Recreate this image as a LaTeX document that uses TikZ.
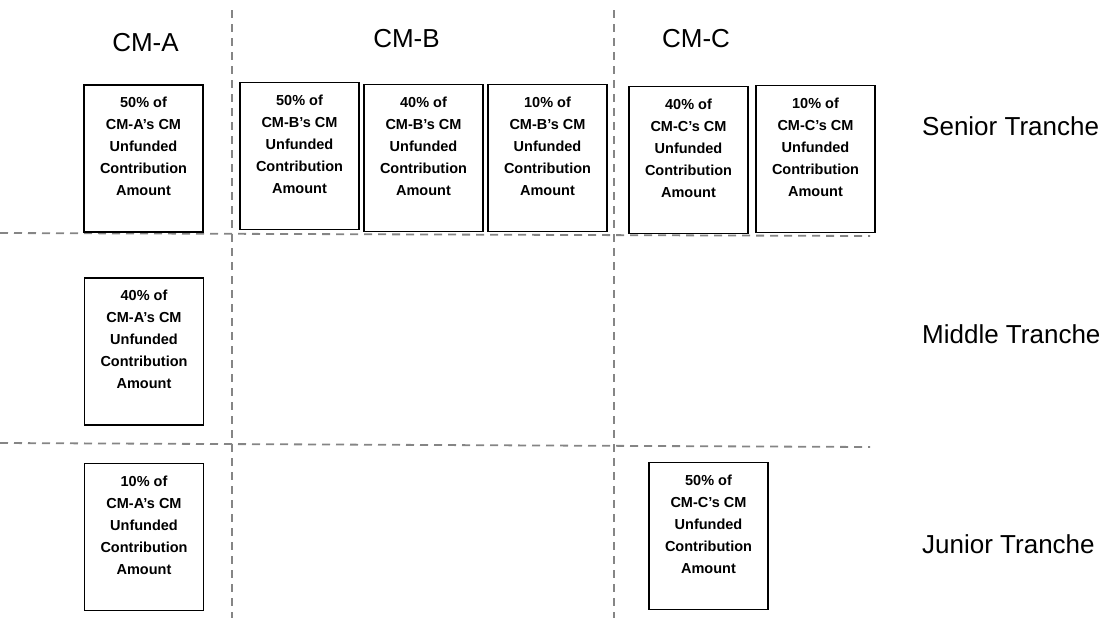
\documentclass[tikz,border=0pt]{standalone}
\usepackage{fontspec}
\setmainfont{Liberation Sans}
\begin{document}
\begin{tikzpicture}[x=1pt,y=-1pt,
  divider/.style={draw=black!48, line width=1.8pt, dash pattern=on 8pt off 6pt},
  sharebox/.style={draw=black, line width=1.2pt, minimum width=119pt, minimum height=147pt, inner sep=0pt},
  sharetext/.style={anchor=north, inner sep=0pt, align=center, font=\bfseries\fontsize{14.5}{22}\selectfont},
  colhead/.style={anchor=base, inner sep=0pt, font=\fontsize{26}{30}\selectfont},
  rowhead/.style={anchor=base west, inner sep=0pt, font=\fontsize{26}{30}\selectfont}]
\useasboundingbox (0,0) rectangle (1115,622);

% dividers
\coordinate (v1t) at (232,10);   \coordinate (v1b) at (232,618);
\coordinate (v2t) at (614,10);   \coordinate (v2b) at (614,618);
\coordinate (h1l) at (0,233);    \coordinate (h1r) at (870,236);
\coordinate (h2l) at (0,443);    \coordinate (h2r) at (870,447);
\draw[divider] (v1t) -- (v1b);
\draw[divider] (v2t) -- (v2b);
\draw[divider] (h1l) -- (h1r);
\draw[divider] (h2l) -- (h2r);

% column headers
\node[colhead] (hA) at (145.5,51) {CM-A};
\node[colhead] (hB) at (406.5,47) {CM-B};
\node[colhead] (hC) at (696,47) {CM-C};

% row headers
\node[rowhead] (rS) at (922,135) {Senior Tranche};
\node[rowhead] (rM) at (922,343) {Middle Tranche};
\node[rowhead] (rJ) at (922,553) {Junior Tranche};

% boxes
\node[sharebox] (a1) at (143.5,158.5) {};
\node[sharetext] (a1t) at ([yshift=-12.5pt]a1.north) {50\% of\\CM-A’s CM\\Unfunded\\Contribution\\Amount};
\node[sharebox] (b1) at (299.5,156) {};
\node[sharetext] (b1t) at ([yshift=-12.5pt]b1.north) {50\% of\\CM-B’s CM\\Unfunded\\Contribution\\Amount};
\node[sharebox] (b2) at (423.5,158) {};
\node[sharetext] (b2t) at ([yshift=-12.5pt]b2.north) {40\% of\\CM-B’s CM\\Unfunded\\Contribution\\Amount};
\node[sharebox] (b3) at (547.5,158) {};
\node[sharetext] (b3t) at ([yshift=-12.5pt]b3.north) {10\% of\\CM-B’s CM\\Unfunded\\Contribution\\Amount};
\node[sharebox] (c1) at (688.5,160) {};
\node[sharetext] (c1t) at ([yshift=-12.5pt]c1.north) {40\% of\\CM-C’s CM\\Unfunded\\Contribution\\Amount};
\node[sharebox] (c2) at (815.5,159) {};
\node[sharetext] (c2t) at ([yshift=-12.5pt]c2.north) {10\% of\\CM-C’s CM\\Unfunded\\Contribution\\Amount};
\node[sharebox] (a2) at (144,351.5) {};
\node[sharetext] (a2t) at ([yshift=-12.5pt]a2.north) {40\% of\\CM-A’s CM\\Unfunded\\Contribution\\Amount};
\node[sharebox] (a3) at (144,537) {};
\node[sharetext] (a3t) at ([yshift=-12.5pt]a3.north) {10\% of\\CM-A’s CM\\Unfunded\\Contribution\\Amount};
\node[sharebox] (c3) at (708.5,536) {};
\node[sharetext] (c3t) at ([yshift=-12.5pt]c3.north) {50\% of\\CM-C’s CM\\Unfunded\\Contribution\\Amount};
\end{tikzpicture}
\end{document}
